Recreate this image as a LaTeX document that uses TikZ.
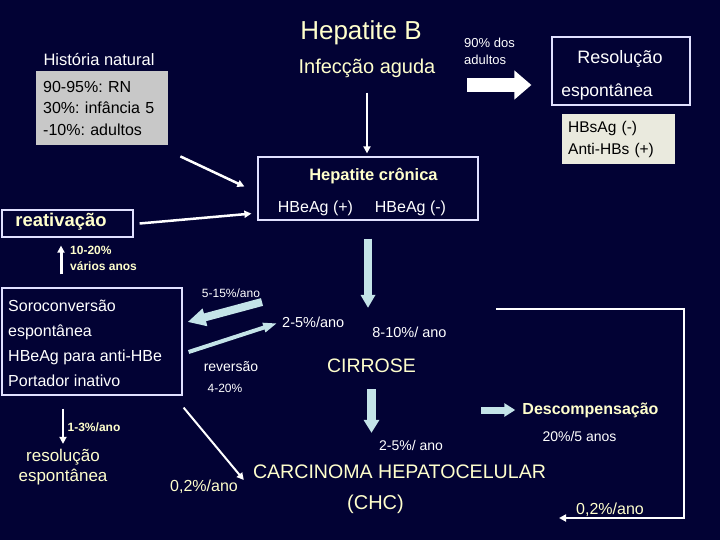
\documentclass[tikz,border=0pt]{standalone}
\usepackage{fontspec}
\setmainfont{Liberation Sans}
\usepackage{tikz}
\usetikzlibrary{arrows.meta,calc}
\usepackage{xcolor}
\definecolor{fundo}{RGB}{2,2,52}
\definecolor{creme}{RGB}{255,255,204}
\definecolor{azulclaro}{RGB}{196,228,232}
\definecolor{cinzacaixa}{RGB}{200,200,200}
\definecolor{beje}{RGB}{234,234,222}
\definecolor{moldura}{RGB}{225,225,255}
\newcommand{\tam}[2]{\fontsize{#1}{#2}\selectfont}
\frenchspacing

\begin{document}
\begin{tikzpicture}[
    x=1pt, y=-1pt,
    txt/.style={text=white,inner sep=1pt},
    cr/.style={text=creme,inner sep=1pt},
    moldura/.style={draw=moldura,line width=1.2pt,inner sep=0pt},
    seta/.style={draw=white,line width=2pt,-{Triangle[length=7pt,width=7pt]}},
    setagrossa/.style={draw=white,line width=14pt,-{Triangle[length=17pt,width=28pt]}},
    setaazul/.style={draw=azulclaro,line width=8pt,-{Triangle[length=13pt,width=14pt]}},
    setaazulfina/.style={draw=azulclaro,line width=4pt,-{Triangle[length=14pt,width=9pt]}}
]
\fill[fundo] (0,0) rectangle (720,540);

% infeccao aguda e resolucao
\node[cr,font=\tam{26}{30}] (titulo) at (361,33) {Hepatite B};
\node[cr,font=\tam{20}{24}] (infeccao) at (367,68) {Infecção aguda};
\node[txt,font=\tam{16.5}{20}] (historia) at (99,60) {História natural};
\node[fill=cinzacaixa,text=black,font=\tam{16}{21.5},align=left,anchor=north west,
      minimum width=132pt,minimum height=74pt,text width=118pt,inner xsep=7pt,inner ysep=0pt]
      (casos) at (36,71) {90-95\%: RN\\30\%: infância 5\\-10\%: adultos};
\node[txt,font=\tam{13}{17},align=left,anchor=north west] (adultos) at (463,37) {90\% dos\\adultos};
\node[moldura,minimum width=138pt,minimum height=68pt] (resolucao) at (621,71) {};
\node[txt,font=\tam{18}{22}] (resolT) at (620,59) {Resolução};
\node[txt,font=\tam{17.5}{21}] (resolE) at (607,92) {espontânea};
\node[fill=beje,text=black,font=\tam{15.5}{22},align=left,anchor=north west,
      minimum width=113pt,minimum height=50pt,text width=101pt,inner xsep=6pt,inner ysep=0pt]
      (sorologia) at (562,114) {HBsAg (-)\\Anti-HBs (+)};

% hepatite cronica
\node[moldura,minimum width=220pt,minimum height=63pt] (cronica) at (368,188.5) {};
\node[cr,font=\bfseries\tam{16.5}{20}] (cronT) at (373.5,176) {Hepatite crônica};
\node[txt,font=\tam{16}{20}] (hbeMais) at (315.5,208) {HBeAg (+)};
\node[txt,font=\tam{16}{20}] (hbeMenos) at (410.5,208) {HBeAg (-)};
\node[moldura,minimum width=131pt,minimum height=27pt] (reativacao) at (67.5,223.5) {};
\node[cr,font=\bfseries\tam{18.4}{22}] (reatT) at (61,222) {reativação};
\node[cr,font=\bfseries\tam{12}{15.5},align=left,anchor=west] (taxa1020) at (69,258.5) {10-20\%\\vários anos};

% soroconversao
\node[moldura,minimum width=180pt,minimum height=107pt] (soro) at (92,341.5) {};
\node[txt,font=\tam{16}{25},align=left,anchor=west] (soroT) at (7,343)
      {Soroconversão\\espontânea\\HBeAg para anti-HBe\\Portador inativo};
\node[txt,font=\tam{12}{15}] (taxa515) at (231,293) {5-15\%/ano};
\node[txt,font=\tam{14.5}{18},anchor=west] (taxa25) at (281,322) {2-5\%/ano};
\node[txt,font=\tam{14}{17}] (reversao) at (231,367) {reversão};
\node[txt,font=\tam{12}{15}] (taxa420) at (225,388) {4-20\%};
\node[cr,font=\bfseries\tam{12}{15}] (taxa13) at (94,427) {1-3\%/ano};
\node[cr,font=\tam{17}{20},align=center] (resolesp) at (63,467) {resolução\\espontânea};
\node[cr,font=\tam{16}{20}] (taxa02b) at (204,487) {0,2\%/ano};

% cirrose e CHC
\node[txt,font=\tam{14.5}{18}] (taxa810) at (409.5,332) {8-10\%/ ano};
\node[cr,font=\tam{19.5}{23}] (cirrose) at (371.5,366) {CIRROSE};
\node[txt,font=\tam{14}{17}] (taxa25b) at (411,445) {2-5\%/ ano};
\node[cr,font=\tam{19.6}{23}] (chc) at (399.5,472) {CARCINOMA HEPATOCELULAR};
\node[cr,font=\tam{20}{24}] (chcSigla) at (375.5,504) {(CHC)};
\node[cr,font=\bfseries\tam{16}{20}] (descomp) at (590.5,410) {Descompensação};
\node[txt,font=\tam{14}{17}] (taxa205) at (579.5,436) {20\%/5 anos};
\node[cr,font=\tam{16}{20}] (taxa02a) at (610,510) {0,2\%/ano};

\coordinate (setaIni) at (467,85);
\coordinate (ini515) at (262,302);
\coordinate (voltaIni) at (496,309);

\draw[setagrossa,shorten >=20pt] (setaIni) -- (resolucao.west |- setaIni);
\draw[seta,shorten <=14pt,shorten >=3pt] (infeccao.south) -- (infeccao.south |- cronica.north);
\draw[seta,line width=2.5pt] ([shift={(12,11)}]casos.south east) -- ([shift={(-13,-2)}]cronica.west);
\draw[seta,line width=2.5pt] ([xshift=6pt]reativacao.east) -- ([shift={(-6,-7)}]cronica.south west);
\draw[seta,line width=3pt,shorten <=13pt,shorten >=8pt] (reatT |- soro.north) -- (reatT |- reativacao.south);
\draw[setaazul,-{Triangle[length=18pt,width=17pt]}] (ini515) -- ([shift={(5,-19.5)}]soro.east);
\draw[setaazulfina,shorten >=4pt] ([shift={(6,10.5)}]soro.east) -- (taxa25.west);
\draw[setaazul,shorten <=18pt,shorten >=50pt] (cronica.south) -- (cronica.south |- cirrose.north);
\draw[setaazul,line width=9pt,-{Triangle[length=13pt,width=15pt]},shorten <=15pt,shorten >=31pt]
      (cirrose.south) -- (cirrose.south |- chc.north);
\draw[setaazul,line width=7pt,-{Triangle[length=11pt,width=13pt]}] ([xshift=-40pt]descomp.west) -- ([xshift=-6pt]descomp.west);
\draw[seta] (voltaIni) -- ++(188,0) |- ([shift={(-16,8)}]taxa02a.west);
\draw[seta] ([shift={(1,12)}]soro.south east) -- ([shift={(-8,8)}]chc.west);
\draw[seta,shorten <=13pt,shorten >=4pt] (resolesp.north |- soro.south) -- (resolesp.north);
\end{tikzpicture}
\end{document}
